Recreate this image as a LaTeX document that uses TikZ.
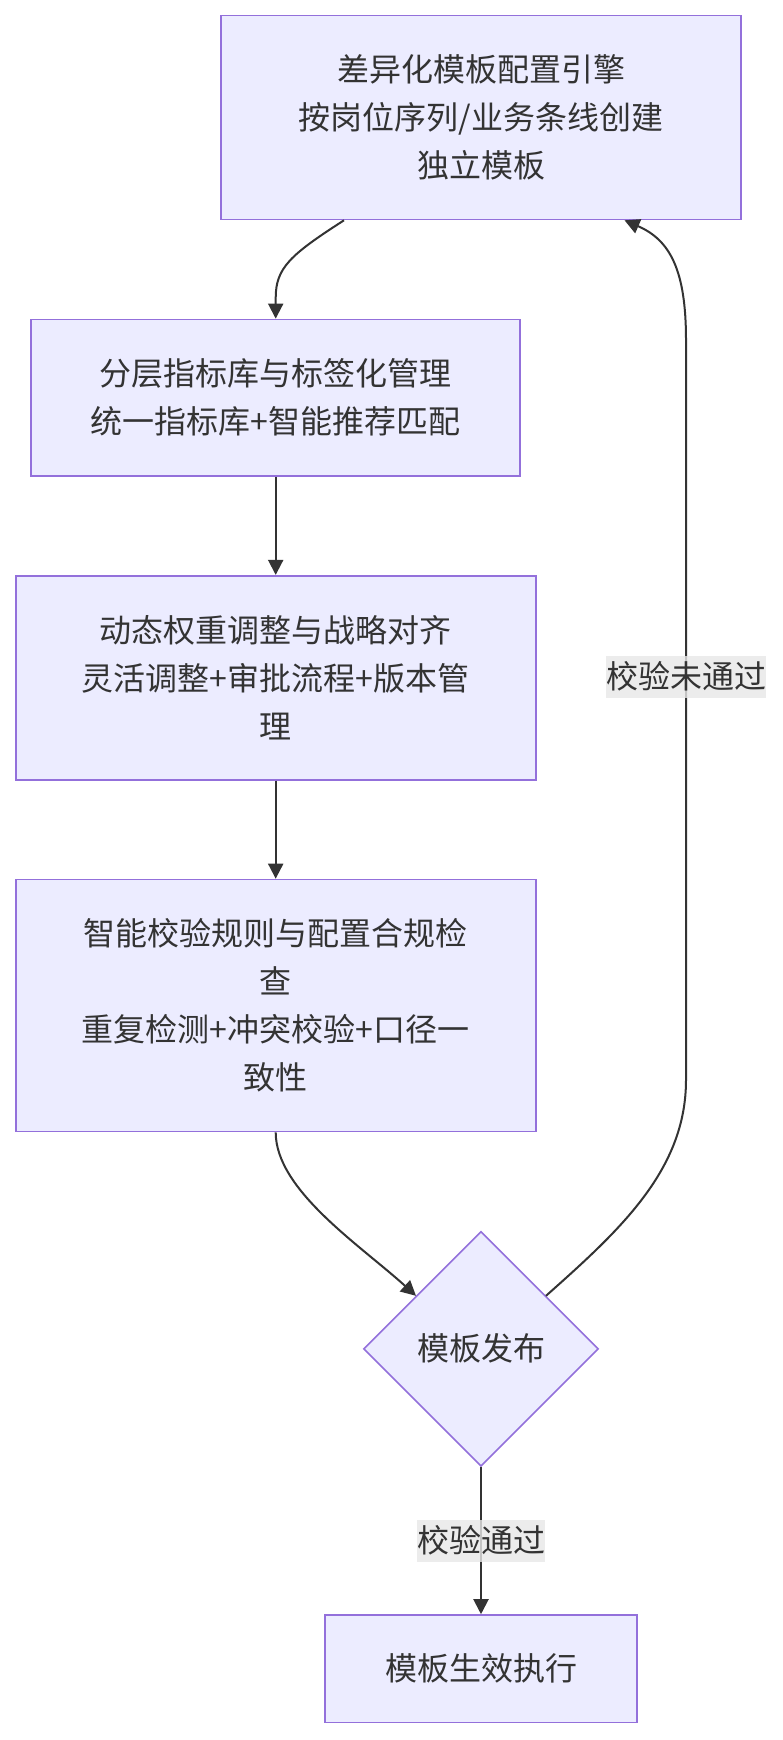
\documentclass[tikz,border=0pt]{standalone}
\usepackage{fontspec}
\setmainfont{Noto Sans CJK SC}
\usetikzlibrary{arrows.meta,shapes.geometric,calc}
\definecolor{nodefill}{HTML}{ECECFF}
\definecolor{nodeborder}{HTML}{9370DB}
\definecolor{edgecol}{HTML}{333333}
\definecolor{lblbg}{HTML}{E8E8E8}
\begin{document}
\begin{tikzpicture}[x=1pt,y=-1pt,
  txt/.style={text=edgecol,font=\fontsize{32}{48}\selectfont},
  box/.style={txt,draw=nodeborder,fill=nodefill,line width=1.6pt,inner sep=0pt,align=center},
  dia/.style={txt,diamond,draw=nodeborder,fill=nodefill,line width=1.6pt,inner sep=0pt,
    minimum width=235pt,minimum height=235pt,aspect=1,align=center},
  arr/.style={draw=edgecol,line width=2pt,-{Triangle[length=15pt,width=15pt]}},
  lbl/.style={txt,fill=lblbg,fill opacity=0.8,text opacity=1,inner sep=0pt,minimum height=42pt}]

\fill[white] (0,0) rectangle (782,1740);
\useasboundingbox (0,0) rectangle (782,1740);

\node[box,minimum width=520pt,minimum height=204pt] (b1) at (481,117.5)
  {差异化模板配置引擎\\按岗位序列/业务条线创建\\独立模板};
\node[box,minimum width=489pt,minimum height=156.5pt] (b2) at (275.7,397.7)
  {分层指标库与标签化管理\\统一指标库+智能推荐匹配};
\node[box,minimum width=520pt,minimum height=204pt] (b3) at (275.7,677.7)
  {动态权重调整与战略对齐\\灵活调整+审批流程+版本管\\理};
\node[box,minimum width=520pt,minimum height=252pt] (b4) at (275.7,1005.5)
  {智能校验规则与配置合规检\\查\\重复检测+冲突校验+口径一\\致性};
\node[dia] (d) at (481,1348.8) {模板发布};
\node[box,minimum width=312pt,minimum height=107.6pt] (b5) at (481,1668.8)
  {模板生效执行};

% b1 -> b2
\draw[arr] ([xshift=-137pt]b1.south) .. controls (290,255) and (275.7,268) .. (275.7,298) -- (b2.north);
% b2 -> b3, b3 -> b4
\draw[arr] (b2.south) -- (b3.north);
\draw[arr] (b3.south) -- (b4.north);
% b4 -> diamond
\draw[arr] (b4.south) .. controls (275.7,1190) and (360,1245) .. ($(d.center)+(-65,-53)$);
% diamond -> b5
\draw[arr] (d.south) -- node[lbl]{校验通过} (b5.north);
% diamond -> b1 (loop back)
\draw[arr] ($(d.center)+(65,-53)$) .. controls (620,1230) and (686,1170) .. (686,1080)
  -- node[lbl,pos=0.545]{校验未通过} (686,340)
  .. controls (686,270) and (670,240) .. ([xshift=143.5pt]b1.south);
\end{tikzpicture}
\end{document}
